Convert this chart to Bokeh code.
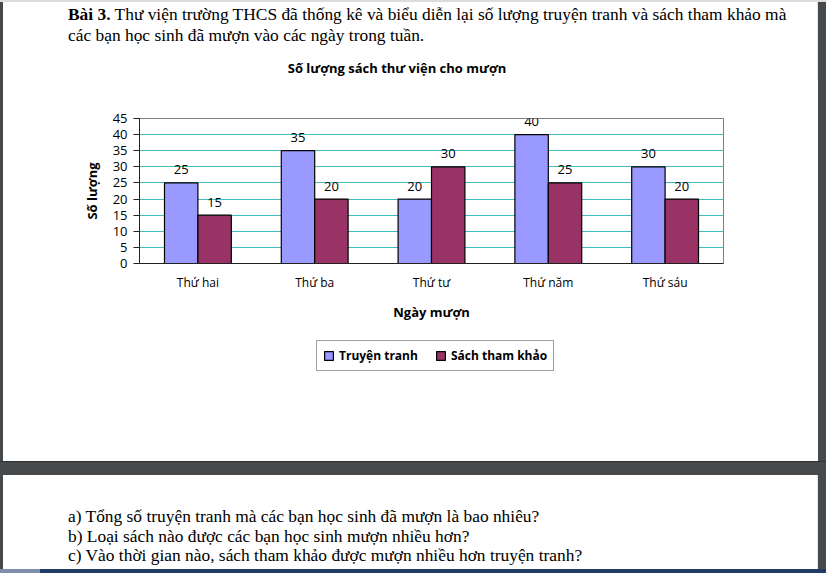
from bokeh.plotting import figure
from bokeh.layouts import column
from bokeh.models import (FactorRange, Range1d, LabelSet, ColumnDataSource, Div,
                          Legend, LegendItem, FixedTicker)
from bokeh.transform import dodge
from bokeh.core.properties import value
from bokeh.embed import file_html
from bokeh.resources import INLINE

# ---- data ----
days = ["Thứ hai", "Thứ ba", "Thứ tư", "Thứ năm", "Thứ sáu"]
truyen_tranh = [25, 35, 20, 40, 30]
sach_tham_khao = [15, 20, 30, 25, 20]
y_ticks = [0, 5, 10, 15, 20, 25, 30, 35, 40, 45]
series_names = ["Truyện tranh", "Sách tham khảo"]
chart_title = "Số lượng sách thư viện cho mượn"
x_title = "Ngày mượn"
y_title = "Số lượng"
doc_top = ["Bài 3.",
           "Thư viện trường THCS đã thống kê và biểu diễn lại số lượng truyện tranh và sách tham khảo mà",
           "các bạn học sinh đã mượn vào các ngày trong tuần."]
doc_bottom = ["a) Tổng số truyện tranh mà các bạn học sinh đã mượn là bao nhiêu?",
              "b) Loại sách nào được các bạn học sinh mượn nhiều hơn?",
              "c) Vào thời gian nào, sách tham khảo được mượn nhiều hơn truyện tranh?"]
# off-range key samples so the legend (own block) can draw its swatches
key_x = [-1.0]
key_top = [0.0]

# ---- page geometry (px) ----
W, H = 826, 573
LB, RB = 3, 8             # dark page borders left / right
TOP_H = 80                # document text + chart title
CH_H = 250                # plot + axes
LG_H = 131                # legend block
BOT_H = H - TOP_H - CH_H - LG_H   # gap band + next page
CH_W = W - LB - RB
FL, FR = 136, 720         # plot frame inside the figures (x)
FT, FB = 118 - TOP_H, 263 - TOP_H

BLUE = "#9999FF"
PLUM = "#993366"
DARK = "#474a4d"
FONT = "Open Sans"
SERIF = "Liberation Serif"

src = ColumnDataSource(dict(day=days, tt=truyen_tranh, stk=sach_tham_khao,
                            tt_lbl=[str(v) for v in truyen_tranh],
                            stk_lbl=[str(v) for v in sach_tham_khao]))

p = figure(width=CH_W, height=CH_H, x_range=FactorRange(*days), y_range=Range1d(0, 45),
           output_backend="svg", toolbar_location=None,
           min_border_left=FL, min_border_right=CH_W - FR,
           min_border_top=FT, min_border_bottom=CH_H - FB,
           background_fill_color="white", border_fill_color="white",
           margin=(0, RB, 0, LB))

off = 0.143
bw = 0.286
bar_style = dict(line_color="black", line_width=1.2)
r1 = p.vbar(x=dodge("day", -off, range=p.x_range), top="tt", width=bw, source=src,
            fill_color=BLUE, **bar_style)
r2 = p.vbar(x=dodge("day", off, range=p.x_range), top="stk", width=bw, source=src,
            fill_color=PLUM, **bar_style)

for col, lbl, o in (("tt", "tt_lbl", -off), ("stk", "stk_lbl", off)):
    p.add_layout(LabelSet(x=dodge("day", o, range=p.x_range), y=col, text=lbl, source=src,
                          y_offset=13, text_align="center", text_baseline="middle",
                          text_font=value(FONT), text_font_size="13px", text_color="black"))

# axes
p.yaxis.ticker = FixedTicker(ticks=y_ticks)
p.yaxis.minor_tick_line_color = None
p.yaxis.major_tick_out = 6
p.yaxis.major_tick_in = 0
p.yaxis.major_label_standoff = 6
p.yaxis.axis_line_color = "#222222"
p.yaxis.major_tick_line_color = "#222222"
p.yaxis.major_label_text_font = FONT
p.yaxis.major_label_text_font_size = "13px"
p.yaxis.major_label_text_color = "black"
p.yaxis.axis_label = y_title
p.yaxis.axis_label_text_font = FONT
p.yaxis.axis_label_text_font_size = "13px"
p.yaxis.axis_label_text_font_style = "bold"
p.yaxis.axis_label_text_color = "black"
p.yaxis.axis_label_standoff = 9

p.xaxis.major_tick_line_color = None
p.xaxis.major_tick_out = 0
p.xaxis.major_tick_in = 0
p.xaxis.axis_line_color = "#222222"
p.xaxis.major_label_standoff = 10
p.xaxis.major_label_text_font = FONT
p.xaxis.major_label_text_font_size = "12px"
p.xaxis.major_label_text_color = "black"
p.xaxis.axis_label = x_title
p.xaxis.axis_label_text_font = FONT
p.xaxis.axis_label_text_font_size = "13px"
p.xaxis.axis_label_text_font_style = "bold"
p.xaxis.axis_label_text_color = "black"
p.xaxis.axis_label_standoff = 9

p.xgrid.grid_line_color = None
p.ygrid.ticker = FixedTicker(ticks=y_ticks)
p.ygrid.grid_line_color = "#3fbcbc"
p.ygrid.grid_line_width = 1
p.outline_line_color = "#808080"
p.outline_line_width = 1

# ---- legend block (own figure, so the legend is not clipped) ----
lg = figure(width=CH_W, height=LG_H, x_range=Range1d(0, 1), y_range=Range1d(0, 1),
            output_backend="svg", toolbar_location=None, x_axis_type=None, y_axis_type=None,
            min_border_left=FL, min_border_right=CH_W - FR, min_border_top=0,
            min_border_bottom=0, background_fill_color="white", border_fill_color="white",
            outline_line_color=None, margin=(0, RB, 0, LB))
k1 = lg.vbar(x=key_x, top=key_top, width=0.1, fill_color=BLUE, **bar_style)
k2 = lg.vbar(x=key_x, top=key_top, width=0.1, fill_color=PLUM, **bar_style)
lg_top = TOP_H + CH_H
legend = Legend(items=[LegendItem(label=series_names[0], renderers=[k1]),
                       LegendItem(label=series_names[1], renderers=[k2])],
                orientation="horizontal",
                location=(316 - LB - FL, LG_H - (371 - lg_top)),
                border_line_color="#404040", border_line_width=1,
                glyph_width=11, glyph_height=11, label_standoff=5, spacing=17,
                label_height=15, padding=6, margin=0,
                label_text_font=FONT, label_text_font_size="12px",
                label_text_font_style="bold", label_text_color="black",
                background_fill_color="white", background_fill_alpha=1)
lg.add_layout(legend)

# ---- document parts as HTML ----
def line(x, top, html):
    return (f'<div style="position:absolute;left:{x}px;top:{top}px;white-space:nowrap;'
            f'line-height:20px;">{html}</div>')


def bars(h):
    return (f'<div style="position:absolute;left:0;top:0;width:{LB}px;height:{h}px;background:{DARK};"></div>'
            f'<div style="position:absolute;right:0;top:0;width:{RB}px;height:{h}px;background:{DARK};"></div>'
            f'<div style="position:absolute;right:{RB}px;top:0;width:1px;height:{h}px;background:#e4e6e8;"></div>')


base = f"position:relative;overflow:hidden;background:white;font-family:'{SERIF}';font-size:17.4px;color:black;"

title_html = (f'<div style="position:absolute;left:397px;top:59px;transform:translateX(-50%);'
              f'white-space:nowrap;font-family:\'{FONT}\';font-size:13px;font-weight:bold;'
              f'line-height:18px;">{chart_title}</div>')

top_html = (f'<div style="{base}width:{W}px;height:{TOP_H}px;">' + bars(TOP_H)
            + '<div style="position:absolute;left:0;top:0;width:100%;height:2px;background:#dcdcdc;"></div>'
            + line(68, 4, f"<b>{doc_top[0]}</b> {doc_top[1]}")
            + line(68, 25, doc_top[2]) + title_html + '</div>')

bot_top = H - BOT_H
bot_lines = "".join(line(68, c - bot_top - 10, t) for t, c in zip(doc_bottom, (516, 536, 555)))
bot_html = (f'<div style="{base}width:{W}px;height:{BOT_H}px;">' + bars(BOT_H)
            + f'<div style="position:absolute;left:0;top:0;width:100%;height:14px;background:{DARK};'
              f'border-top:1px solid #303234;box-sizing:border-box;"></div>'
            + bot_lines
            + f'<div style="position:absolute;left:0;bottom:0;width:100%;height:4px;background:#1f3b66;"></div>'
            + f'<div style="position:absolute;left:0;bottom:0;width:40px;height:4px;background:#7d8fa8;"></div>'
            + '</div>')

top_div = Div(text=top_html, width=W, height=TOP_H, margin=0)
bot_div = Div(text=bot_html, width=W, height=BOT_H, margin=0)

page_bg = (f"linear-gradient(to right, {DARK} 0px, {DARK} {LB}px, #ffffff {LB}px, "
           f"#ffffff {W - RB - 1}px, #e4e6e8 {W - RB - 1}px, #e4e6e8 {W - RB}px, "
           f"{DARK} {W - RB}px, {DARK} {W}px)")
layout = column(top_div, p, lg, bot_div, spacing=0, styles={"background": page_bg})

open("out.html", "w").write(file_html(layout, INLINE))
